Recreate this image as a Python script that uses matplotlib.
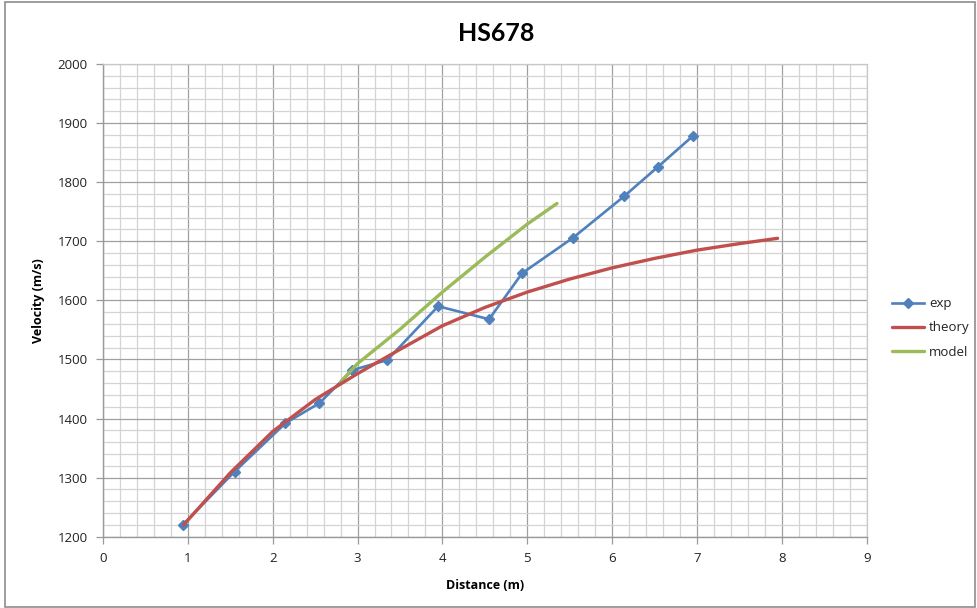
import matplotlib
matplotlib.use("Agg")
import matplotlib.pyplot as plt
from matplotlib.patches import Rectangle
from matplotlib.ticker import MultipleLocator

# Measured data
exp_x = [0.94, 1.55, 2.15, 2.55, 2.94, 3.35, 3.95, 4.55, 4.94, 5.54, 6.14, 6.54, 6.95]
exp_v = [1220, 1310, 1392, 1426, 1482, 1499, 1590, 1568, 1646, 1706, 1776, 1826, 1878]

# Theoretical curve
theory_x = [0.95, 1.5, 2.0, 2.5, 3.0, 3.5, 4.0, 4.5, 5.0, 5.5, 6.0, 6.5, 7.0, 7.5, 7.95]
theory_v = [1220, 1308, 1378, 1432, 1476, 1517, 1557, 1588, 1614, 1636, 1655, 1671, 1685, 1696, 1705]

# Model curve
model_x = [2.8, 3.0, 3.5, 4.0, 4.5, 5.0, 5.35]
model_v = [1462, 1493, 1551, 1614, 1673, 1729, 1764]

title = "HS678"
x_label = "Distance (m)"
y_label = "Velocity (m/s)"
series_names = ["exp", "theory", "model"]

BLUE = "#4F81BD"
RED = "#C0504D"
GREEN = "#9BBB59"

W, H = 977, 608
fig = plt.figure(figsize=(W / 100, H / 100), dpi=100)
ax = fig.add_axes([0.1054, 0.1173, 0.7817, 0.7774])

ax.plot(exp_x, exp_v, color=BLUE, lw=1.9, marker="D", ms=5.5,
        mfc=BLUE, mec=BLUE, label=series_names[0], zorder=3)
ax.plot(theory_x, theory_v, color=RED, lw=2.4, label=series_names[1],
        solid_capstyle="round", zorder=5)
ax.plot(model_x, model_v, color=GREEN, lw=2.4, label=series_names[2],
        solid_capstyle="round", zorder=4)

ax.set_xlim(0, 9)
ax.set_ylim(1200, 2000)
ax.xaxis.set_major_locator(MultipleLocator(1))
ax.xaxis.set_minor_locator(MultipleLocator(0.2))
ax.yaxis.set_major_locator(MultipleLocator(100))
ax.yaxis.set_minor_locator(MultipleLocator(20))

ax.grid(which="minor", color="#d4d4d4", lw=0.9)
ax.grid(which="major", color="#a0a0a0", lw=0.9)
ax.set_axisbelow(True)

for side in ["top", "right"]:
    ax.spines[side].set_color("#c8c8c8")
    ax.spines[side].set_linewidth(0.9)
for side in ["left", "bottom"]:
    ax.spines[side].set_color("#999999")
    ax.spines[side].set_linewidth(1.0)

ax.tick_params(which="major", length=5, width=0.9, color="#999999",
               labelsize=9.5, pad=6, labelcolor="#222222")
ax.tick_params(which="minor", length=0)
for lab in ax.get_xticklabels() + ax.get_yticklabels():
    lab.set_fontfamily("Open Sans")

ax.set_xlabel(x_label, fontfamily="Open Sans", fontweight="bold",
              fontsize=9, labelpad=10)
ax.set_ylabel(y_label, fontfamily="Open Sans", fontweight="bold",
              fontsize=9, labelpad=9)
fig.text(0.508, 0.945, title, ha="center", va="center",
         fontfamily="Lato", fontweight="bold", fontsize=18)

leg = ax.legend(loc="center left", bbox_to_anchor=(892 / W, 1 - 328 / H),
                bbox_transform=fig.transFigure, frameon=False,
                prop={"family": "Open Sans", "size": 9.5}, handlelength=2.45,
                handletextpad=0.35, labelspacing=0.85, borderaxespad=0,
                borderpad=0)
for text in leg.get_texts():
    text.set_color("#222222")

# Outer chart frame
fig.patches.append(Rectangle((0.005, 0.002), 0.993, 0.994, transform=fig.transFigure,
                             fill=False, edgecolor="#8c8c8c", lw=1.2))

fig.savefig("out.png", dpi=100, facecolor="white")
